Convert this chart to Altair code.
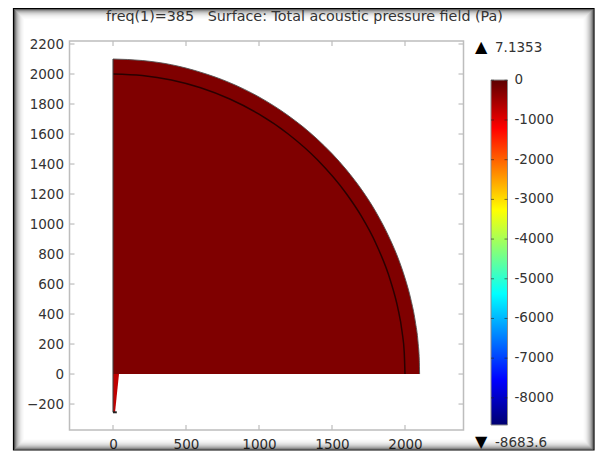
import altair as alt
import pandas as pd

TITLE = "freq(1)=385\u00A0\u00A0\u00A0Surface: Total acoustic pressure field (Pa)"
X_TICKS = [0, 500, 1000, 1500, 2000]
Y_TICKS = [-200, 0, 200, 400, 600, 800, 1000, 1200, 1400, 1600, 1800, 2000, 2200]
CB_TICKS = [0, -1000, -2000, -3000, -4000, -5000, -6000, -7000, -8000]
MAX_VAL, MIN_VAL = 7.1353, -8683.6

OUTER_X = [0, 200, 400, 600, 800, 1000, 1200, 1400, 1600, 1700, 1800, 1900, 1950, 2000, 2040, 2070, 2090, 2098, 2100]
OUTER_Y = [2100, 2090, 2062, 2012, 1942, 1847, 1723, 1565, 1360, 1233, 1082, 894, 780, 640, 499, 354, 205, 92, 0]
INNER_X = [0, 200, 400, 600, 800, 1000, 1200, 1400, 1600, 1700, 1800, 1900, 1950, 1980, 1995, 2000]
INNER_Y = [2000, 1990, 1960, 1908, 1833, 1732, 1600, 1428, 1200, 1054, 872, 624, 444, 282, 141, 0]
SPIKE_Y = [0, -255]
SPIKE_X2 = [41, 14]

GRAD_STOPS = [(0, "#5c0000"), (0.14, "#ff0000"), (0.377, "#ffff00"), (0.5, "#7fff7f"),
              (0.62, "#00ffff"), (0.87, "#0000ff"), (1, "#000070")]
SHADOW = [1, 0.62, 0.44, 0.32, 0.24, 0.17, 0.12, 0.08, 0.05, 0.03, 0.015]

W, H = 394, 389
XS = alt.Scale(domain=[-298, 2400.7], nice=False, zero=False)
YS = alt.Scale(domain=[-373, 2220], nice=False, zero=False)
CS = alt.Scale(domain=[MIN_VAL, MAX_VAL], range=[384, 39], nice=False, zero=False)
GREY = "#bdbdbd"
TXT = "#333333"
FONT = "DejaVu Sans"

x_ = lambda **k: alt.X("x:Q", scale=XS, axis=None, **k)
y_ = lambda **k: alt.Y("y:Q", scale=YS, axis=None, **k)

layers = []
# drop-shadowed picture frame (kept inside the page so nothing is scaled)
for i, op in enumerate(SHADOW):
    layers.append(
        alt.Chart(pd.DataFrame({"a": [0]})).mark_rect(fill="transparent", stroke="black", strokeOpacity=op, strokeWidth=1.2)
        .encode(x=alt.value(-56 + i), x2=alt.value(524.5 - i), y=alt.value(-32.5 + i), y2=alt.value(409 - i))
    )

outer = pd.DataFrame({"x": OUTER_X, "y": OUTER_Y, "y0": [0] * len(OUTER_X)})
inner = pd.DataFrame({"x": INNER_X, "y": INNER_Y})
spike = pd.DataFrame({"y": SPIKE_Y, "x": [0, 0], "x2": SPIKE_X2})

layers.append(
    alt.Chart(outer).mark_area(color="#7f0000", interpolate="monotone")
    .encode(
        x=alt.X("x:Q", scale=XS, title=None, axis=alt.Axis(values=X_TICKS, grid=False, domain=False, ticks=False,
                labelPadding=7, labelFont=FONT, labelFontSize=13.5, labelColor=TXT, format="d")),
        y=alt.Y("y:Q", scale=YS, title=None, axis=alt.Axis(values=Y_TICKS, grid=False, domain=False, ticks=False,
                labelPadding=6, labelFont=FONT, labelFontSize=13.5, labelColor=TXT, format="d")),
        y2="y0:Q",
    )
)
layers.append(alt.Chart(outer).mark_line(color="#555555", strokeWidth=0.9, interpolate="monotone").encode(x=x_(), y=y_()))
layers.append(alt.Chart(inner).mark_line(color="#2a0000", strokeWidth=1.5, interpolate="monotone").encode(x=x_(), y=y_()))
layers.append(
    alt.Chart(spike).mark_area(color="#c00000", orient="horizontal")
    .encode(x=alt.X("x:Q", scale=XS, axis=None), x2="x2:Q", y=alt.Y("y:Q", scale=YS, axis=None))
)
left_edge = pd.DataFrame({"x": [0, 0], "y": [-255, 2100]})
layers.append(alt.Chart(left_edge).mark_line(color="#444444", strokeWidth=1.1).encode(x=x_(), y=y_()))
foot = pd.DataFrame({"x": [0, 26], "y": [-255, -255]})
layers.append(alt.Chart(foot).mark_line(color="#222222", strokeWidth=2).encode(x=x_(), y=y_()))

# inward ticks on all four sides
xt = pd.DataFrame({"x": X_TICKS})
yt = pd.DataFrame({"y": Y_TICKS})
for a, b in [(H, H - 5), (0, 5)]:
    layers.append(alt.Chart(xt).mark_rule(color=GREY, strokeWidth=1.2).encode(x=x_(), y=alt.value(a), y2=alt.value(b)))
for a, b in [(0, 5), (W, W - 5)]:
    layers.append(alt.Chart(yt).mark_rule(color=GREY, strokeWidth=1.2).encode(y=y_(), x=alt.value(a), x2=alt.value(b)))

# colour bar
CX0, CX1 = 421.5, 438
cb_y = lambda f: alt.Y(f, scale=CS, axis=None)
cbar = pd.DataFrame({"lo": [MIN_VAL], "hi": [MAX_VAL]})
grad = alt.Gradient(gradient="linear", x1=0, y1=0, x2=0, y2=1,
                    stops=[alt.GradientStop(offset=o, color=c) for o, c in GRAD_STOPS])
layers.append(
    alt.Chart(cbar).mark_rect(fill=grad, stroke="#8c8c8c", strokeWidth=1)
    .encode(y=cb_y("lo:Q"), y2="hi:Q", x=alt.value(CX0), x2=alt.value(CX1))
)
cbt = pd.DataFrame({"v": CB_TICKS, "t": [str(v) for v in CB_TICKS]})
for a, b in [(CX0, CX0 + 3), (CX1 - 3, CX1)]:
    layers.append(alt.Chart(cbt).mark_rule(color="#222222", opacity=0.6, strokeWidth=1).encode(y=cb_y("v:Q"), x=alt.value(a), x2=alt.value(b)))
layers.append(
    alt.Chart(cbt).mark_text(align="left", baseline="middle", font=FONT, fontSize=13.5, color=TXT)
    .encode(y=cb_y("v:Q"), x=alt.value(CX1 + 7), text="t:N")
)

def label(txt, x, y, **kw):
    return alt.Chart(pd.DataFrame({"t": [txt]})).mark_text(baseline="middle", font=FONT, **kw).encode(
        x=alt.value(x), y=alt.value(y), text="t:N")

layers.append(label("\u25B2", 405.5, 6, align="left", fontSize=16, color="black"))
layers.append(label("7.1353", 425.5, 7, align="left", fontSize=13.5, color=TXT))
layers.append(label("\u25BC", 405.5, 401, align="left", fontSize=16, color="black"))
layers.append(label(str(MIN_VAL), 425.5, 402, align="left", fontSize=13.5, color=TXT))
layers.append(label(TITLE, 235, -24, align="center", fontSize=14.3, color=TXT))

chart = (
    alt.layer(*layers)
    .resolve_scale(y="independent")
    .resolve_axis(x="independent")
    .properties(width=W, height=H, padding={"left": 61.5, "top": 33, "right": 131.5, "bottom": 21},
                autosize=alt.AutoSizeParams(type="none"), background="white")
    .configure_view(stroke=GREY, strokeWidth=1.5)
)
chart.save("out.html", embed_options={"renderer": "svg", "actions": False})
